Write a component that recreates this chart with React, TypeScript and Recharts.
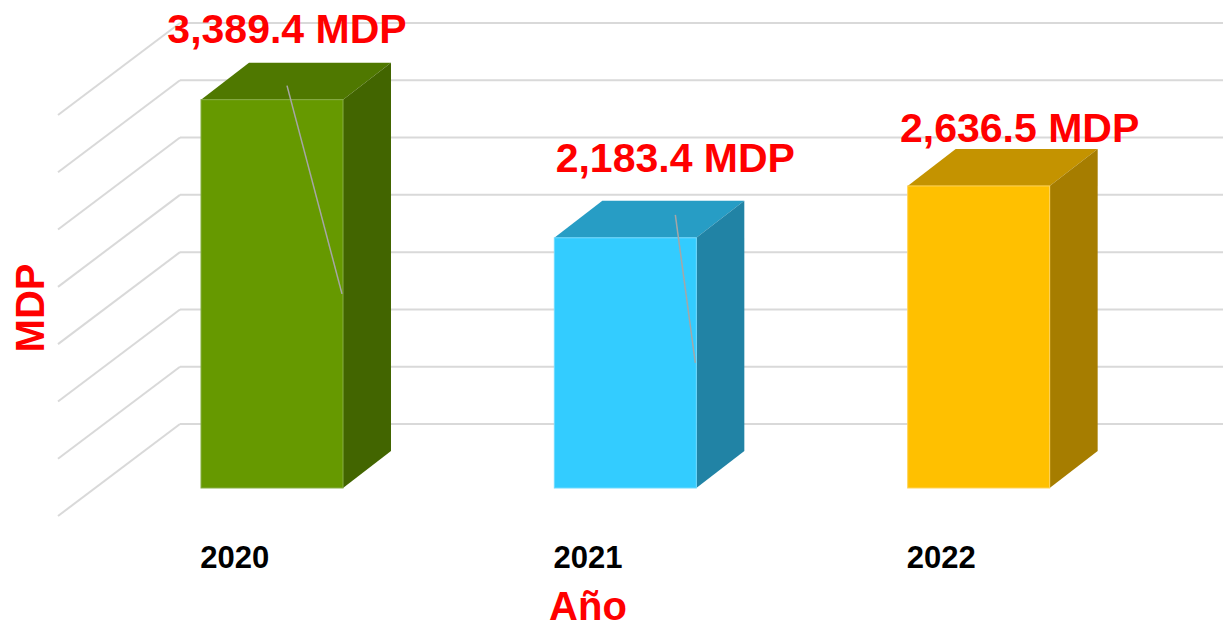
import React from 'react';
import { BarChart, Bar, XAxis, YAxis, CartesianGrid, LabelList, Label } from 'recharts';

const years = ['2020', '2021', '2022'];
const amounts = [3389.4, 2183.4, 2636.5];
const yTicks = [0, 500, 1000, 1500, 2000, 2500, 3000, 3500];
const unit = 'MDP';
const xTitle = 'Año';
const yTitle = 'MDP';

const data = years.map((year, i) => ({ year, amount: amounts[i] }));

const FONT = '"Liberation Sans", Arial, sans-serif';
const FACE = [
  { front: '#669900', top: '#4F7800', side: '#426500', edge: '#86AD45' },
  { front: '#33CCFF', top: '#279DC5', side: '#2183A5', edge: '#6FDAFF' },
  { front: '#FFC000', top: '#C49300', side: '#A67D00', edge: '#FFD35A' },
];
const DEPTH_X = 48;
const DEPTH_Y = 37;
const WALL_X = 85;
const WALL_Y = 64;
const FRONT_X = 37;
const FRONT_Y = 28;
const LABEL_DX = [15, 50, 41];
const LABEL_DY = [-57, -66, -44];
const LEADER = [true, true, false];

const gridLine = (props: any) => {
  const { x1, y1, x2, index } = props;
  const wx = x1 + WALL_X;
  const wy = y1 - WALL_Y;
  return (
    <g key={`grid-${index}-${y1}`}>
      <line x1={wx} y1={wy} x2={x2 + WALL_X + 100} y2={wy} stroke="#D9D9D9" strokeWidth={2} />
      <line x1={wx} y1={wy} x2={x1 - FRONT_X} y2={y1 + FRONT_Y} stroke="#D9D9D9" strokeWidth={2} />
    </g>
  );
};

const Box3D = (props: any) => {
  const { x, y, width, height } = props;
  let idx = props.index;
  if (idx === undefined || idx === null) idx = years.indexOf(props.year ?? props.payload?.year);
  const c = FACE[idx] || FACE[0];
  const top = `${x},${y} ${x + DEPTH_X},${y - DEPTH_Y} ${x + width + DEPTH_X},${y - DEPTH_Y} ${x + width},${y}`;
  const side = `${x + width},${y} ${x + width + DEPTH_X},${y - DEPTH_Y} ${x + width + DEPTH_X},${y + height - DEPTH_Y} ${x + width},${y + height}`;
  return (
    <g>
      <polygon points={top} fill={c.top} />
      <polygon points={side} fill={c.side} />
      <rect x={x} y={y} width={width} height={height} fill={c.front} stroke={c.edge} strokeWidth={1} />
    </g>
  );
};

const fmt = (v: number) =>
  v.toLocaleString('en-US', { minimumFractionDigits: 1, maximumFractionDigits: 1 }) + ' ' + unit;

const ValueLabel = (props: any) => {
  const { x, y, width, height, value, index } = props;
  const cx = x + width / 2 + LABEL_DX[index];
  const by = y + LABEL_DY[index];
  return (
    <g>
      {LEADER[index] && (
        <line x1={cx} y1={by + 43} x2={x + width - 1} y2={y + height / 2} stroke="#A6A6A6" strokeWidth={1.5} />
      )}
      <text x={cx} y={by} textAnchor="middle" fill="#FF0000" fontFamily={FONT} fontWeight="bold" fontSize={41}>
        {fmt(value)}
      </text>
    </g>
  );
};

const YearTick = (props: any) => {
  const { x, y, payload } = props;
  return (
    <text x={x - FRONT_X} y={y + 80} textAnchor="middle" fill="#000000" fontFamily={FONT} fontWeight="bold" fontSize={31}>
      {payload.value}
    </text>
  );
};

export default function App() {
  return (
    <div style={{ position: 'absolute', left: 0, top: 0, background: '#FFFFFF' }}>
      <BarChart
        width={1223}
        height={627}
        data={data}
        margin={{ top: 87, right: 68, bottom: 0, left: 95 }}
        barCategoryGap={0}
      >
        <CartesianGrid vertical={false} horizontal={gridLine} horizontalValues={yTicks} />
        <XAxis
          dataKey="year"
          height={139}
          axisLine={false}
          tickLine={false}
          tickSize={0}
          tickMargin={0}
          tick={<YearTick />}
          interval={0}
        >
          <Label
            content={(p: any) => {
              const vb = p.viewBox;
              const tx = vb.x - 51;
              const ty = vb.y - 180;
              return (
                <g>
                  <text
                    x={vb.x + vb.width / 2 - FRONT_X}
                    y={vb.y + 132}
                    textAnchor="middle"
                    fill="#FF0000"
                    fontFamily={FONT}
                    fontWeight="bold"
                    fontSize={40}
                  >
                    {xTitle}
                  </text>
                  <text
                    x={tx}
                    y={ty}
                    transform={`rotate(-90, ${tx}, ${ty})`}
                    textAnchor="middle"
                    fill="#FF0000"
                    fontFamily={FONT}
                    fontWeight="bold"
                    fontSize={40}
                  >
                    {yTitle}
                  </text>
                </g>
              );
            }}
          />
        </XAxis>
        <YAxis
          domain={[0, 3500]}
          ticks={yTicks}
          width={0}
          axisLine={false}
          tickLine={false}
          tick={() => null}
        />
        <Bar dataKey="amount" barSize={142} shape={Box3D} isAnimationActive={false}>
          <LabelList dataKey="amount" content={ValueLabel} />
        </Bar>
      </BarChart>
    </div>
  );
}
